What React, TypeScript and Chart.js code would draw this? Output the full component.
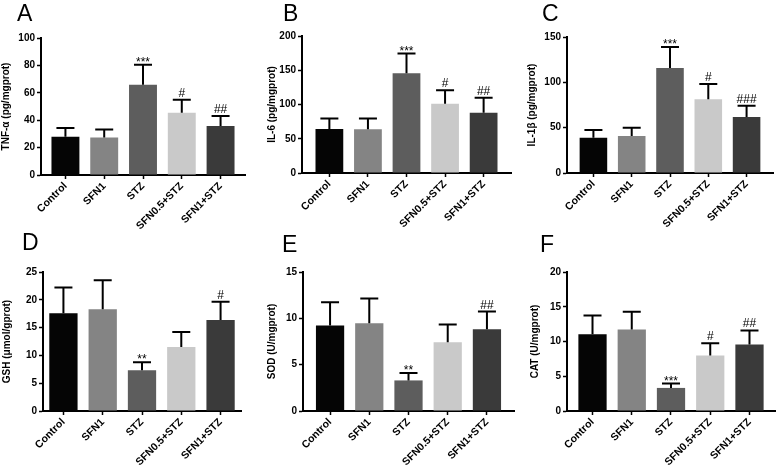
import React, { useEffect, useRef } from "react";
import { Chart, registerables } from "chart.js";

Chart.register(...registerables);

const FONT = "'Liberation Sans', Arial, Helvetica, sans-serif";
Chart.defaults.font.family = FONT;

// ---------- data ----------
const categories = ["Control", "SFN1", "STZ", "SFN0.5+STZ", "SFN1+STZ"];
const barColors = ["#050505", "#848484", "#5d5d5d", "#c9c9c9", "#3a3a3a"];

const tnfMean = [28.0, 27.3, 65.9, 45.5, 35.8];
const tnfSD = [6.3, 6.0, 14.6, 9.5, 7.3];
const tnfSig = ["", "", "***", "#", "##"];

const il6Mean = [64.1, 64.0, 145.6, 101.0, 87.9];
const il6SD = [15.5, 15.6, 28.7, 19.9, 21.8];
const il6Sig = ["", "", "***", "#", "##"];

const il1bMean = [39.0, 40.8, 115.8, 81.3, 61.8];
const il1bSD = [8.4, 9.2, 23.2, 16.9, 12.5];
const il1bSig = ["", "", "***", "#", "###"];

const gshMean = [17.6, 18.3, 7.33, 11.5, 16.35];
const gshSD = [4.6, 5.2, 1.44, 2.7, 3.3];
const gshSig = ["", "", "**", "", "#"];

const sodMean = [9.22, 9.47, 3.3, 7.43, 8.83];
const sodSD = [2.51, 2.66, 0.79, 1.9, 1.9];
const sodSig = ["", "", "**", "", "##"];

const catMean = [11.06, 11.73, 3.32, 7.98, 9.57];
const catSD = [2.69, 2.55, 0.62, 1.78, 2.02];
const catSig = ["", "", "***", "#", "##"];

const yMaxes = [100, 200, 150, 25, 15, 20];
const ySteps = [20, 50, 50, 5, 5, 5];
const yTitles = [
  "TNF-\u03b1 (pg/mgprot)",
  "IL-6 (pg/mgprot)",
  "IL-1\u03b2 (pg/mgprot)",
  "GSH (\u03bcmol/gprot)",
  "SOD (U/mgprot)",
  "CAT (U/mgprot)",
];
const letters = ["A", "B", "C", "D", "E", "F"];

// ---------- layout ----------
type Cfg = {
  letter: string;
  title: string;
  mean: number[];
  sd: number[];
  sig: string[];
  max: number;
  step: number;
  canvas: { x: number; y: number; w: number; h: number };
  plot: { l: number; r: number; t: number; b: number };
  gap: number;
  titleX: number;
  letterX: number;
  letterY: number;
};

const means = [tnfMean, il6Mean, il1bMean, gshMean, sodMean, catMean];
const sds = [tnfSD, il6SD, il1bSD, gshSD, sodSD, catSD];
const sigs = [tnfSig, il6Sig, il1bSig, gshSig, sodSig, catSig];

const layouts = [
  { canvas: { x: 0, y: 0, w: 260, h: 235 }, plot: { l: 41, r: 245, t: 38, b: 175 }, gap: 0.63, titleX: 6, letterX: 17, letterY: 21 },
  { canvas: { x: 260, y: 0, w: 260, h: 235 }, plot: { l: 302, r: 511, t: 36, b: 173 }, gap: 0.71, titleX: 272, letterX: 283, letterY: 21 },
  { canvas: { x: 520, y: 0, w: 259, h: 235 }, plot: { l: 567, r: 773, t: 37, b: 173 }, gap: 0.69, titleX: 532, letterX: 542, letterY: 21 },
  { canvas: { x: 0, y: 226, w: 260, h: 243 }, plot: { l: 43, r: 241, t: 272, b: 411 }, gap: 0.52, titleX: 7, letterX: 22, letterY: 250 },
  { canvas: { x: 260, y: 226, w: 260, h: 243 }, plot: { l: 303, r: 514, t: 272, b: 411 }, gap: 0.69, titleX: 272, letterX: 282, letterY: 252 },
  { canvas: { x: 520, y: 226, w: 259, h: 243 }, plot: { l: 567, r: 775, t: 272, b: 411 }, gap: 0.65, titleX: 535, letterX: 540, letterY: 252 },
];

const panels: Cfg[] = layouts.map((lay, k) => ({
  letter: letters[k],
  title: yTitles[k],
  mean: means[k],
  sd: sds[k],
  sig: sigs[k],
  max: yMaxes[k],
  step: ySteps[k],
  ...lay,
}));

function makePlugin(c: Cfg) {
  return {
    id: "errbars" + c.letter,
    afterDatasetsDraw(chart: any) {
      const { ctx } = chart;
      const xs = chart.scales.x;
      const ys = chart.scales.y;
      ctx.save();
      ctx.strokeStyle = "#000";
      ctx.lineWidth = 2;
      c.mean.forEach((m, i) => {
        const px = xs.getPixelForValue(i);
        const y0 = ys.getPixelForValue(m);
        const y1 = ys.getPixelForValue(m + c.sd[i]);
        ctx.beginPath();
        ctx.moveTo(px, y0);
        ctx.lineTo(px, y1);
        ctx.moveTo(px - 9, y1);
        ctx.lineTo(px + 9, y1);
        ctx.stroke();
        const s = c.sig[i];
        if (s) {
          ctx.fillStyle = "#000";
          ctx.textAlign = "center";
          ctx.textBaseline = "alphabetic";
          if (s.indexOf("*") >= 0) {
            ctx.font = `12px ${FONT}`;
            ctx.fillText(s, px, y1 + 1);
          } else {
            ctx.font = `12px ${FONT}`;
            ctx.fillText(s, px, y1 - 3);
          }
        }
      });
      ctx.restore();
    },
    afterDraw(chart: any) {
      const { ctx } = chart;
      ctx.save();
      ctx.fillStyle = "#000";
      ctx.font = `23px ${FONT}`;
      ctx.textAlign = "left";
      ctx.textBaseline = "alphabetic";
      ctx.fillText(c.letter, c.letterX - c.canvas.x, c.letterY - c.canvas.y);
      ctx.restore();
    },
  };
}

function Panel({ cfg }: { cfg: Cfg }) {
  const ref = useRef<HTMLCanvasElement | null>(null);
  useEffect(() => {
    const c = cfg;
    const cw = c.canvas.w;
    const ch = c.canvas.h;
    const padTop = c.plot.t - c.canvas.y;
    const padRight = c.canvas.x + cw - c.plot.r;
    const yW = c.plot.l - c.canvas.x;
    const xH = c.canvas.y + ch - c.plot.b;
    const titlePad = Math.max(0, c.titleX - c.canvas.x - 6);
    const chart = new Chart(ref.current as HTMLCanvasElement, {
      type: "bar",
      data: {
        datasets: [
          {
            data: c.mean.map((v, i) => ({ x: i, y: v })),
            backgroundColor: barColors,
            borderWidth: 0,
            barPercentage: 0.72,
            categoryPercentage: 1,
          } as any,
        ],
      },
      options: {
        responsive: false,
        animation: false,
        layout: { padding: { top: padTop, right: padRight, left: 0, bottom: 0 } },
        plugins: { legend: { display: false }, tooltip: { enabled: false } },
        scales: {
          x: {
            type: "linear",
            min: -c.gap,
            max: 4 + c.gap,
            offset: false,
            afterBuildTicks: (s: any) => {
              s.ticks = categories.map((_, i) => ({ value: i }));
            },
            afterFit: (s: any) => {
              s.height = xH;
            },
            ticks: {
              autoSkip: false,
              minRotation: 45,
              maxRotation: 45,
              padding: 1,
              color: "#000",
              font: { size: 10.5, weight: "bold", family: FONT },
              callback: (v: any) => categories[v as number],
            },
            grid: {
              offset: false,
              drawOnChartArea: false,
              drawTicks: true,
              tickLength: 4,
              tickColor: "#000",
              tickWidth: 1.5,
            },
            border: { color: "#000", width: 2 },
          } as any,
          y: {
            min: 0,
            max: c.max,
            afterFit: (s: any) => {
              s.width = yW;
            },
            ticks: {
              stepSize: c.step,
              padding: 2,
              color: "#000",
              font: { size: 10, weight: "bold", family: FONT },
            },
            grid: {
              drawOnChartArea: false,
              drawTicks: true,
              tickLength: 4,
              tickColor: "#000",
              tickWidth: 1.5,
            },
            border: { color: "#000", width: 2 },
            title: {
              display: true,
              text: c.title,
              color: "#000",
              font: { size: 10, weight: "bold", family: FONT },
              padding: { top: titlePad, bottom: 0 },
            },
          } as any,
        },
      },
      plugins: [makePlugin(c)],
    });
    return () => chart.destroy();
  }, [cfg]);
  return (
    <canvas
      ref={ref}
      width={cfg.canvas.w}
      height={cfg.canvas.h}
      style={{
        position: "absolute",
        left: cfg.canvas.x,
        top: cfg.canvas.y,
        width: cfg.canvas.w,
        height: cfg.canvas.h,
      }}
    />
  );
}

export default function App() {
  return (
    <div
      style={{
        position: "absolute",
        left: 0,
        top: 0,
        width: 779,
        height: 469,
        background: "#fff",
      }}
    >
      {panels.map((p) => (
        <Panel key={p.letter} cfg={p} />
      ))}
    </div>
  );
}
